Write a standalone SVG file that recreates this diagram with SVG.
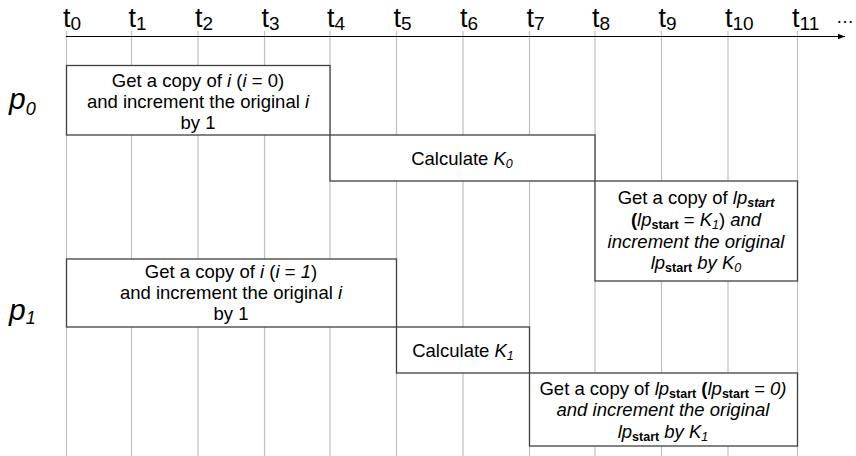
<svg xmlns="http://www.w3.org/2000/svg" width="856" height="456" viewBox="0 0 856 456">
<style>
text{font-family:"Liberation Sans",Arial,sans-serif;fill:#000}
.t{font-size:27px}
.ts{font-size:19px}
.lbl{font-size:18.5px;text-anchor:middle}
.it{font-style:italic}
.b{font-weight:bold}
.sub{font-size:12.5px}
.p{font-size:30px;font-style:italic}
.grid{stroke:#c0c0c0;stroke-width:1.2}
.box{fill:#fff;stroke:#404040;stroke-width:1.3}
</style>
<defs>
<marker id="arr" viewBox="0 0 10 10" refX="10" refY="5" markerWidth="7" markerHeight="7" markerUnits="userSpaceOnUse" orient="auto">
<path d="M0,1 L10,5 L0,9 Z" fill="#000"/>
</marker>
</defs>
<g id="grid">
<line class="grid" x1="66.5" y1="31" x2="66.5" y2="456"/>
<line class="grid" x1="131.5" y1="31" x2="131.5" y2="456"/>
<line class="grid" x1="198" y1="31" x2="198" y2="456"/>
<line class="grid" x1="264.5" y1="31" x2="264.5" y2="456"/>
<line class="grid" x1="330" y1="31" x2="330" y2="456"/>
<line class="grid" x1="396.5" y1="31" x2="396.5" y2="456"/>
<line class="grid" x1="463" y1="31" x2="463" y2="456"/>
<line class="grid" x1="529.5" y1="31" x2="529.5" y2="456"/>
<line class="grid" x1="595" y1="31" x2="595" y2="456"/>
<line class="grid" x1="661.5" y1="31" x2="661.5" y2="456"/>
<line class="grid" x1="728" y1="31" x2="728" y2="456"/>
<line class="grid" x1="797.5" y1="31" x2="797.5" y2="456"/>
</g>
<g id="axis">
<line x1="66" y1="36.5" x2="845" y2="36.5" stroke="#000" stroke-width="1.2" marker-end="url(#arr)"/>
<text class="t" x="63" y="27">t<tspan class="ts" dy="3">0</tspan></text>
<text class="t" x="128.5" y="27">t<tspan class="ts" dy="3">1</tspan></text>
<text class="t" x="195" y="27">t<tspan class="ts" dy="3">2</tspan></text>
<text class="t" x="261.5" y="27">t<tspan class="ts" dy="3">3</tspan></text>
<text class="t" x="327" y="27">t<tspan class="ts" dy="3">4</tspan></text>
<text class="t" x="393.5" y="27">t<tspan class="ts" dy="3">5</tspan></text>
<text class="t" x="460" y="27">t<tspan class="ts" dy="3">6</tspan></text>
<text class="t" x="526.5" y="27">t<tspan class="ts" dy="3">7</tspan></text>
<text class="t" x="592" y="27">t<tspan class="ts" dy="3">8</tspan></text>
<text class="t" x="658.5" y="27">t<tspan class="ts" dy="3">9</tspan></text>
<text class="t" x="725" y="27">t<tspan class="ts" dy="3">10</tspan></text>
<text class="t" x="792" y="27">t<tspan class="ts" dy="3">11</tspan></text>
<text x="836" y="23" font-size="18">…</text>
</g>
<g id="p0-label">
<text class="p" x="9" y="109">p<tspan font-size="18" dy="6">0</tspan></text>
</g>
<g id="p1-label">
<text class="p" x="9" y="320">p<tspan font-size="18" dy="4">1</tspan></text>
</g>
<g id="p0-copy">
<rect class="box" x="66.5" y="65.5" width="263.5" height="69.5"/>
<text class="lbl" x="198" y="87">Get a copy of <tspan class="it">i</tspan> (<tspan class="it">i</tspan> = 0)</text>
<text class="lbl" x="198" y="108">and increment the original <tspan class="it">i</tspan></text>
<text class="lbl" x="198" y="129">by 1</text>
</g>
<g id="p0-calc">
<rect class="box" x="330" y="135" width="265" height="46"/>
<text class="lbl" x="462" y="165">Calculate <tspan class="it">K</tspan><tspan class="it sub" dy="3">0</tspan></text>
</g>
<g id="p0-lp">
<rect class="box" x="595" y="181" width="202.5" height="100"/>
<text class="lbl" x="696" y="204">Get a copy of <tspan class="it">lp</tspan><tspan class="it b sub" dy="3">start</tspan></text>
<text class="lbl" x="696" y="226"><tspan class="b">(</tspan><tspan class="it">lp</tspan><tspan class="b sub" dy="3">start</tspan><tspan dy="-3"> = </tspan><tspan class="it">K</tspan><tspan class="it sub" dy="3">1</tspan><tspan dy="-3">) </tspan><tspan class="it">and</tspan></text>
<text class="lbl it" x="696" y="248">increment the original</text>
<text class="lbl" x="696" y="269"><tspan class="it">lp</tspan><tspan class="b sub" dy="3">start</tspan><tspan class="it" dy="-3"> by K</tspan><tspan class="it sub" dy="3">0</tspan></text>
</g>
<g id="p1-copy">
<rect class="box" x="66.5" y="259" width="330" height="68"/>
<text class="lbl" x="231" y="278">Get a copy of <tspan class="it">i</tspan> (<tspan class="it">i</tspan> = <tspan class="it">1</tspan>)</text>
<text class="lbl" x="231" y="299">and increment the original <tspan class="it">i</tspan></text>
<text class="lbl" x="231" y="320">by 1</text>
</g>
<g id="p1-calc">
<rect class="box" x="396.5" y="327" width="133" height="46"/>
<text class="lbl" x="463" y="357">Calculate <tspan class="it">K</tspan><tspan class="it sub" dy="3">1</tspan></text>
</g>
<g id="p1-lp">
<rect class="box" x="529.5" y="373" width="268" height="73"/>
<text class="lbl" x="663" y="395">Get a copy of <tspan class="it">lp</tspan><tspan class="b sub" dy="3">start</tspan><tspan dy="-3"> </tspan><tspan class="b">(</tspan><tspan class="it">lp</tspan><tspan class="b sub" dy="3">start</tspan><tspan class="it" dy="-3"> = 0)</tspan></text>
<text class="lbl it" x="663" y="416">and increment the original</text>
<text class="lbl" x="663" y="438"><tspan class="it">lp</tspan><tspan class="b sub" dy="3">start</tspan><tspan class="it" dy="-3"> by K</tspan><tspan class="it sub" dy="3">1</tspan></text>
</g>
</svg>
